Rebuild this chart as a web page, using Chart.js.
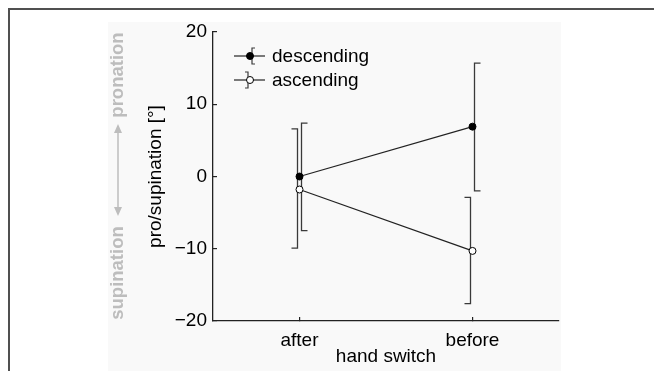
<!DOCTYPE html>
<html>
<head>
<meta charset="utf-8">
<script src="https://cdn.jsdelivr.net/npm/chart.js@4.4.1/dist/chart.umd.min.js"></script>
<style>
  html, body { margin: 0; padding: 0; background: #fff; }
  #wrap { position: relative; width: 654px; height: 371px; overflow: hidden; }
  #frame { position: absolute; left: 8px; top: 8px; width: 660px; height: 400px;
           border-top: 2px solid #505050; border-left: 2px solid #505050; box-sizing: border-box; }
  #panel { position: absolute; left: 108px; top: 22px; width: 453px; height: 360px; background: #f9f9f9; }
  canvas { position: absolute; left: 0; top: 0; }
</style>
</head>
<body>
<div id="wrap">
  <div id="frame"></div>
  <div id="panel"></div>
  <canvas id="chart" width="654" height="371"></canvas>
</div>
<script>
// ===== DATA =====
const categories = ['after', 'before'];
const descMean = [0, 6.9];
const descLow = [-7.5, -2.0];
const descHigh = [7.4, 15.7];
const ascMean = [-1.8, -10.3];
const ascLow = [-9.9, -17.6];
const ascHigh = [6.6, -2.9];
const yTicks = [-20, -10, 0, 10, 20];

const FONT = '"Liberation Sans", Arial, Helvetica, sans-serif';

// error bars drawn as brackets: descending opens right, ascending opens left
const errorBars = [
    { low: descLow, high: descHigh, dx: 2, cap: 6, color: '#3a3a3a' },
    { low: ascLow, high: ascHigh, dx: -2, cap: -6, color: '#3a3a3a' }
];

function bracket(ctx, x, yTop, yBot, cap) {
    ctx.beginPath();
    ctx.moveTo(x + cap, yTop);
    ctx.lineTo(x, yTop);
    ctx.lineTo(x, yBot);
    ctx.lineTo(x + cap, yBot);
    ctx.stroke();
}

const errorBarPlugin = {
    id: 'errorBars',
    beforeDatasetsDraw(chart) {
        const { ctx, scales: { x, y } } = chart;
        ctx.save();
        ctx.lineWidth = 1.3;
        errorBars.forEach(eb => {
            ctx.strokeStyle = eb.color;
            categories.forEach((c, i) => {
                const px = x.getPixelForValue(i) + eb.dx;
                bracket(ctx, px, y.getPixelForValue(eb.high[i]), y.getPixelForValue(eb.low[i]), eb.cap);
            });
        });
        ctx.restore();
    }
};

// legend with bracket icons + side annotations
const decorPlugin = {
    id: 'decor',
    afterDraw(chart) {
        const { ctx, chartArea } = chart;
        ctx.save();

        // legend
        const lx = chartArea.left + 21, ly = 56, gap = 24;
        chart.data.datasets.forEach((ds, i) => {
            const cy = ly + i * gap;
            ctx.strokeStyle = '#222';
            ctx.lineWidth = 1.2;
            ctx.beginPath();
            ctx.moveTo(lx, cy); ctx.lineTo(lx + 31, cy);
            ctx.stroke();
            ctx.strokeStyle = '#3a3a3a';
            bracket(ctx, lx + 16 + errorBars[i].dx, cy - 8, cy + 8, errorBars[i].cap / 2);
            ctx.beginPath();
            ctx.arc(lx + 16, cy, 3.5, 0, Math.PI * 2);
            ctx.fillStyle = ds.pointBackgroundColor;
            ctx.fill();
            ctx.lineWidth = 1;
            ctx.strokeStyle = '#000';
            ctx.stroke();
            ctx.fillStyle = '#000';
            ctx.font = '19px ' + FONT;
            ctx.textAlign = 'left';
            ctx.textBaseline = 'middle';
            ctx.fillText(ds.label, lx + 38, cy + 1);
        });

        // pronation / supination side labels
        const ax = 118;
        ctx.fillStyle = '#bdbdbd';
        ctx.strokeStyle = '#bdbdbd';
        ctx.font = 'bold 18.5px ' + FONT;
        ctx.textAlign = 'center';
        ctx.textBaseline = 'middle';
        [['pronation', 75], ['supination', 273]].forEach(([t, cy]) => {
            ctx.save();
            ctx.translate(ax, cy);
            ctx.rotate(-Math.PI / 2);
            ctx.fillText(t, 0, 0);
            ctx.restore();
        });
        ctx.lineWidth = 1.5;
        ctx.beginPath();
        ctx.moveTo(ax, 130); ctx.lineTo(ax, 210);
        ctx.stroke();
        ctx.beginPath();
        ctx.moveTo(ax, 124); ctx.lineTo(ax - 4, 133); ctx.lineTo(ax + 4, 133); ctx.closePath();
        ctx.moveTo(ax, 216); ctx.lineTo(ax - 4, 207); ctx.lineTo(ax + 4, 207); ctx.closePath();
        ctx.fill();

        ctx.restore();
    }
};

new Chart(document.getElementById('chart').getContext('2d'), {
    type: 'line',
    data: {
        labels: categories,
        datasets: [
            {
                label: 'descending',
                data: descMean,
                borderColor: '#222',
                borderWidth: 1.2,
                pointRadius: 3.5,
                pointBackgroundColor: '#000',
                pointBorderColor: '#000',
                pointBorderWidth: 1
            },
            {
                label: 'ascending',
                data: ascMean,
                borderColor: '#222',
                borderWidth: 1.2,
                pointRadius: 3.5,
                pointBackgroundColor: '#fff',
                pointBorderColor: '#000',
                pointBorderWidth: 1
            }
        ]
    },
    options: {
        responsive: false,
        animation: false,
        layout: { padding: { left: 141, right: 95, top: 32, bottom: 0 } },
        plugins: { legend: { display: false }, tooltip: { enabled: false } },
        scales: {
            x: {
                offset: true,
                grid: { display: true, drawOnChartArea: false, drawTicks: true, tickLength: -4, color: '#222', lineWidth: 1.2 },
                border: { display: true, color: '#222', width: 1.3 },
                ticks: { color: '#000', font: { family: FONT, size: 19 }, padding: 12 },
                title: { display: true, text: 'hand switch', color: '#000', font: { family: FONT, size: 19 }, padding: 3 },
                afterFit(scale) { scale.height = 50; }
            },
            y: {
                min: -20,
                max: 20,
                afterBuildTicks(scale) { scale.ticks = yTicks.map(v => ({ value: v })); },
                grid: { display: true, drawOnChartArea: false, drawTicks: true, tickLength: -4, color: '#222', lineWidth: 1.2 },
                border: { display: true, color: '#222', width: 1.3 },
                ticks: { color: '#000', font: { family: FONT, size: 19 }, padding: 10,
                         callback: v => v < 0 ? '\u2212' + Math.abs(v) : String(v) },
                title: { display: true, text: 'pro/supination [°]', color: '#000', font: { family: FONT, size: 19 }, padding: 3 },
                afterFit(scale) { scale.width = 72; }
            }
        }
    },
    plugins: [errorBarPlugin, decorPlugin]
});
</script>
</body>
</html>
